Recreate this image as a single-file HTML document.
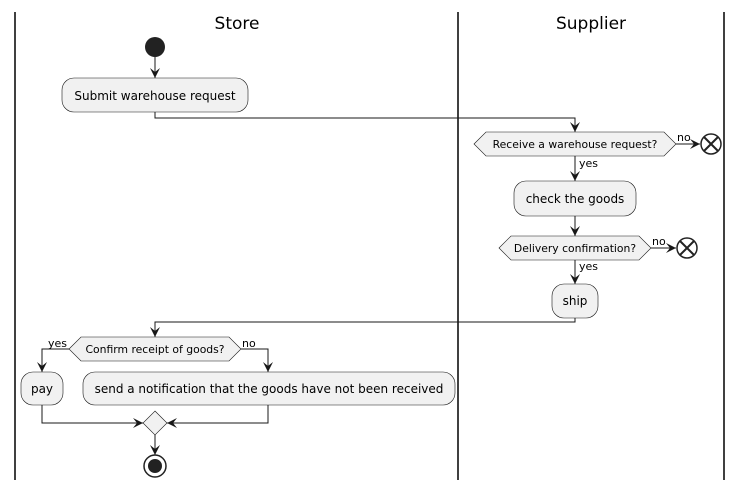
<!DOCTYPE html>
<html><head><meta charset="utf-8"><style>
html,body{margin:0;padding:0;background:#fff;}
svg{display:block;}
text{font-family:"DejaVu Sans","Liberation Sans",sans-serif;fill:#000;}
</style></head><body>
<svg width="743" height="488" viewBox="0 0 743 488" xmlns="http://www.w3.org/2000/svg">
<defs>
<marker id="a" viewBox="0 0 10 10" refX="10" refY="5" markerWidth="10" markerHeight="10" markerUnits="userSpaceOnUse" orient="auto">
<path d="M0,0 L10,5 L0,10 L4,5 Z" fill="#181818"/>
</marker>
</defs>
<g stroke="#000" stroke-width="1.5">
<line x1="15" y1="12" x2="15" y2="480"/>
<line x1="458" y1="12" x2="458" y2="480"/>
<line x1="724" y1="12" x2="724" y2="480"/>
</g>
<text x="237" y="29" font-size="17" text-anchor="middle">Store</text>
<text x="591" y="29" font-size="17" text-anchor="middle">Supplier</text>

<g fill="none" stroke="#181818" stroke-width="1">
<line x1="155" y1="57" x2="155" y2="78" marker-end="url(#a)"/>
<polyline points="155,112 155,118 575,118 575,132" marker-end="url(#a)"/>
<line x1="676" y1="144" x2="700" y2="144" marker-end="url(#a)"/>
<line x1="575" y1="156" x2="575" y2="181" marker-end="url(#a)"/>
<line x1="575" y1="216" x2="575" y2="236" marker-end="url(#a)"/>
<line x1="651" y1="248" x2="676" y2="248" marker-end="url(#a)"/>
<line x1="575" y1="260" x2="575" y2="284" marker-end="url(#a)"/>
<polyline points="575,318 575,322 155,322 155,337" marker-end="url(#a)"/>
<polyline points="69,349 42,349 42,372" marker-end="url(#a)"/>
<polyline points="241,349 268,349 268,372" marker-end="url(#a)"/>
<polyline points="42,405 42,423 143,423" marker-end="url(#a)"/>
<polyline points="268,405 268,423 167,423" marker-end="url(#a)"/>
<line x1="155" y1="435" x2="155" y2="455" marker-end="url(#a)"/>
</g>

<circle cx="155" cy="47" r="10" fill="#222"/>
<g fill="#f1f1f1" stroke="#181818" stroke-width="0.6">
<rect x="62" y="78" width="186" height="34" rx="12"/>
<polygon points="474,144 486,132 664,132 676,144 664,156 486,156"/>
<rect x="514" y="181" width="122" height="35" rx="12"/>
<polygon points="499,248 511,236 639,236 651,248 639,260 511,260"/>
<rect x="552" y="284" width="46" height="34" rx="12"/>
<polygon points="69,349 81,337 229,337 241,349 229,361 81,361"/>
<rect x="21" y="372" width="42" height="33" rx="12"/>
<rect x="83" y="372" width="372" height="33" rx="12"/>
<polygon points="155,411 167,423 155,435 143,423"/>
</g>
<g fill="#fff" stroke="#222" stroke-width="1.5">
<circle cx="711" cy="144" r="10"/>
<circle cx="687" cy="248" r="10"/>
<circle cx="155" cy="466" r="11"/>
</g>
<g stroke="#222" stroke-width="2">
<line x1="704" y1="137" x2="718" y2="151"/><line x1="718" y1="137" x2="704" y2="151"/>
<line x1="680" y1="241" x2="694" y2="255"/><line x1="694" y1="241" x2="680" y2="255"/>
</g>
<circle cx="155" cy="466" r="7" fill="#222"/>

<g font-size="12" text-anchor="middle">
<text x="155" y="100">Submit warehouse request</text>
<text x="575" y="203">check the goods</text>
<text x="575" y="305">ship</text>
<text x="42" y="393">pay</text>
<text x="269" y="393">send a notification that the goods have not been received</text>
</g>
<g font-size="10.8" text-anchor="middle">
<text x="575" y="148">Receive a warehouse request?</text>
<text x="575" y="252">Delivery confirmation?</text>
<text x="155" y="353">Confirm receipt of goods?</text>
</g>
<g font-size="11">
<text x="677" y="141">no</text>
<text x="652" y="245">no</text>
<text x="579" y="167">yes</text>
<text x="579" y="270">yes</text>
<text x="48" y="347">yes</text>
<text x="242" y="347">no</text>
</g>
</svg>
</body></html>
